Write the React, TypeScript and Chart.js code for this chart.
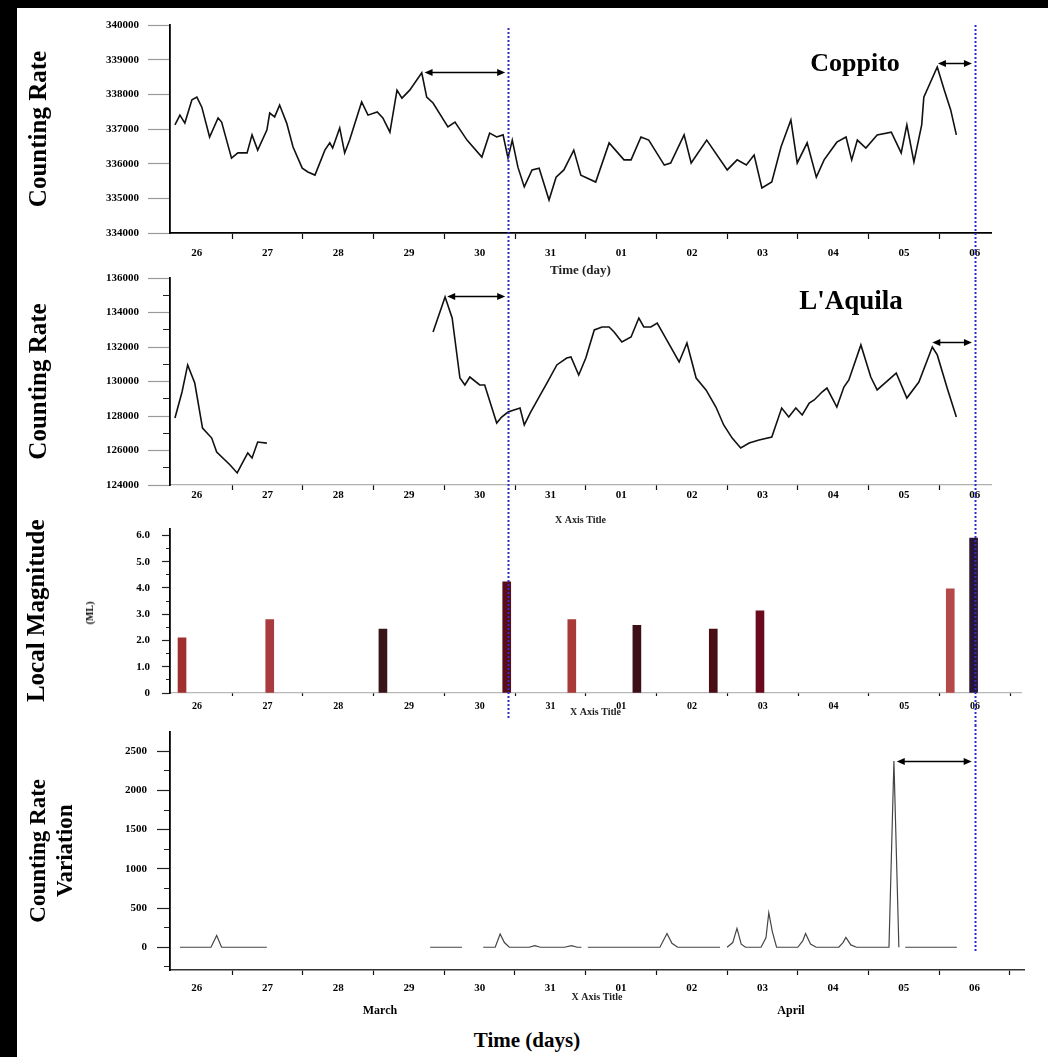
import React, { useEffect, useRef } from 'react';
import { Chart, registerables } from 'chart.js';

Chart.register(...registerables);

const SERIF = "'Liberation Serif', 'DejaVu Serif', 'Times New Roman', serif";

// ---- shared time axis (days; 32 = 1 April) ----
const DAY_VALUES = [26, 27, 28, 29, 30, 31, 32, 33, 34, 35, 36, 37];
const DAY_LABELS = ['26', '27', '28', '29', '30', '31', '01', '02', '03', '04', '05', '06'];
const HALF_DAY_MARKS = [26.5, 27.5, 28.5, 29.5, 30.5, 31.5, 32.5, 33.5, 34.5, 35.5, 36.5, 37.5];
const EVENT_DAYS = [30.4, 37.0];

// ---- Coppito counting rate [day, counts] ----
const COPPITO_POINTS: [number, number][] = [
  [25.69, 337120], [25.76, 337400], [25.83, 337170], [25.93, 337840], [26.0, 337920],
  [26.07, 337630], [26.18, 336770], [26.3, 337320], [26.35, 337200], [26.49, 336160],
  [26.58, 336310], [26.71, 336310], [26.78, 336830], [26.86, 336390], [26.99, 336970],
  [27.03, 337460], [27.1, 337350], [27.17, 337690], [27.27, 337170], [27.36, 336480],
  [27.49, 335870], [27.57, 335760], [27.67, 335670], [27.81, 336390], [27.88, 336600],
  [27.92, 336450], [28.02, 337030], [28.09, 336310], [28.16, 336680], [28.33, 337780],
  [28.42, 337400], [28.55, 337490], [28.63, 337320], [28.73, 336910], [28.83, 338120],
  [28.9, 337890], [29.01, 338120], [29.18, 338620], [29.25, 337920], [29.34, 337750],
  [29.55, 337060], [29.65, 337200], [29.82, 336680], [30.03, 336190], [30.14, 336880],
  [30.24, 336770], [30.33, 336830], [30.4, 336160], [30.46, 336680], [30.54, 335900],
  [30.63, 335330], [30.74, 335820], [30.84, 335870], [30.98, 334950], [31.08, 335610],
  [31.19, 335820], [31.33, 336390], [31.43, 335670], [31.64, 335470], [31.83, 336600],
  [32.04, 336110], [32.14, 336110], [32.28, 336770], [32.39, 336680], [32.61, 335960],
  [32.7, 336020], [32.89, 336830], [32.99, 336020], [33.21, 336680], [33.5, 335820],
  [33.64, 336110], [33.77, 335960], [33.88, 336250], [33.99, 335300], [34.13, 335470],
  [34.26, 336480], [34.4, 337260], [34.49, 336020], [34.63, 336600], [34.76, 335610],
  [34.87, 336110], [35.05, 336620], [35.18, 336770], [35.26, 336110], [35.34, 336680],
  [35.46, 336450], [35.62, 336830], [35.82, 336910], [35.96, 336310], [36.04, 337120],
  [36.14, 336050], [36.25, 337120], [36.28, 337920], [36.47, 338790], [36.57, 338120],
  [36.66, 337550], [36.74, 336830],
];
const COPPITO_Y_TICKS = [334000, 335000, 336000, 337000, 338000, 339000, 340000];
const COPPITO_ARROWS = [
  { from: 29.22, to: 30.36, level: 338640 },
  { from: 36.48, to: 36.96, level: 338900 },
];

// ---- L'Aquila counting rate [day, counts] (null = data gap) ----
const AQUILA_POINTS: [number, number | null][] = [
  [25.69, 127880], [25.79, 129390], [25.87, 130960], [25.97, 129910], [26.08, 127300],
  [26.21, 126720], [26.28, 125910], [26.47, 125160], [26.57, 124700], [26.65, 125330],
  [26.72, 125860], [26.78, 125570], [26.86, 126490], [26.99, 126430], [28.0, null],
  [29.34, 132870], [29.51, 134900], [29.61, 133680], [29.72, 130200], [29.79, 129800],
  [29.86, 130260], [30.0, 129800], [30.07, 129800], [30.24, 127590], [30.31, 127940],
  [30.4, 128230], [30.57, 128460], [30.63, 127480], [30.72, 128230], [30.87, 129330],
  [30.95, 129910], [31.09, 130960], [31.23, 131360], [31.29, 131420], [31.4, 130380],
  [31.5, 131360], [31.62, 132990], [31.73, 133160], [31.83, 133160], [31.9, 132870],
  [32.01, 132290], [32.14, 132580], [32.25, 133680], [32.32, 133160], [32.42, 133160],
  [32.51, 133390], [32.63, 132520], [32.82, 131130], [32.93, 132230], [33.06, 130200],
  [33.2, 129510], [33.34, 128520], [33.45, 127480], [33.57, 126720], [33.69, 126150],
  [33.81, 126430], [33.95, 126610], [34.13, 126780], [34.27, 128460], [34.37, 127940],
  [34.47, 128460], [34.56, 128060], [34.66, 128750], [34.73, 128930], [34.84, 129390],
  [34.91, 129620], [35.05, 128520], [35.15, 129680], [35.22, 130090], [35.39, 132120],
  [35.53, 130260], [35.62, 129510], [35.89, 130490], [36.04, 129040], [36.21, 129970],
  [36.4, 132000], [36.47, 131540], [36.61, 129620], [36.74, 127940],
];
const AQUILA_Y_TICKS = [124000, 126000, 128000, 130000, 132000, 134000, 136000];
const AQUILA_Y_MINOR = [125000, 127000, 129000, 131000, 133000, 135000];
const AQUILA_ARROWS = [
  { from: 29.54, to: 30.36, level: 134960 },
  { from: 36.4, to: 36.96, level: 132290 },
];

// ---- Local magnitude of events ----
const MAG_DAYS = [25.79, 27.03, 28.63, 30.38, 31.3, 32.22, 33.3, 33.96, 36.65, 36.98];
const MAG_ML = [2.1, 2.8, 2.43, 4.23, 2.8, 2.58, 2.43, 3.13, 3.97, 5.9];
const MAG_COLORS = ['#a0302f', '#a83a40', '#3a1418', '#5a0c18', '#a83a38', '#3c1016', '#4a0e16', '#6a0a1c', '#b54848', '#2a1434'];
const MAG_Y_TICKS = [0, 1, 2, 3, 4, 5, 6];
const MAG_Y_MINOR = [0.5, 1.5, 2.5, 3.5, 4.5, 5.5];

// ---- Counting rate variation (%) ----
const VAR_POINTS: [number, number | null][] = [
  [25.76, 0], [26.2, 0], [26.28, 150], [26.35, 0], [26.99, 0], [27.0, null],
  [29.3, 0], [29.75, 0], [29.8, null],
  [30.05, 0], [30.22, 0], [30.29, 170], [30.35, 60], [30.42, 0], [30.7, 0], [30.78, 20],
  [30.86, 0], [31.2, 0], [31.3, 20], [31.38, 0], [31.44, 0], [31.47, null],
  [31.53, 0], [32.55, 0], [32.65, 175], [32.72, 50], [32.8, 0], [33.4, 0], [33.43, null],
  [33.5, 0], [33.58, 60], [33.64, 240], [33.7, 40], [33.76, 0], [33.98, 0], [34.05, 120],
  [34.09, 440], [34.14, 200], [34.2, 0], [34.5, 0], [34.57, 80], [34.61, 175], [34.68, 40],
  [34.76, 0], [35.08, 0], [35.14, 60], [35.18, 125], [35.25, 30], [35.33, 0], [35.79, 0],
  [35.86, 2375], [35.93, 0], [35.97, null], [36.02, 0], [36.75, 0],
];
const VAR_Y_TICKS = [0, 500, 1000, 1500, 2000, 2500];
const VAR_Y_MINOR = [-250, 250, 750, 1250, 1750, 2250];
const VAR_ARROWS = [{ from: 35.9, to: 36.96, level: 2375 }];

// ---------------------------------------------------------------
type VLine = { x: number; y0: number; y1: number };
type Arrow = { from: number; to: number; level: number };

function overlay(vlines: VLine[], arrows: Arrow[]) {
  return {
    id: 'overlay',
    afterDraw(chart: any) {
      const { ctx } = chart;
      const xs = chart.scales.x;
      const ys = chart.scales.y;
      ctx.save();
      arrows.forEach((a) => {
        const x0 = xs.getPixelForValue(a.from);
        const x1 = xs.getPixelForValue(a.to);
        const py = Math.round(ys.getPixelForValue(a.level)) + 0.5;
        ctx.strokeStyle = '#000';
        ctx.fillStyle = '#000';
        ctx.lineWidth = 1.5;
        ctx.beginPath();
        ctx.moveTo(x0 + 4, py);
        ctx.lineTo(x1 - 4, py);
        ctx.stroke();
        ctx.beginPath();
        ctx.moveTo(x0, py);
        ctx.lineTo(x0 + 8, py - 3.5);
        ctx.lineTo(x0 + 8, py + 3.5);
        ctx.closePath();
        ctx.fill();
        ctx.beginPath();
        ctx.moveTo(x1, py);
        ctx.lineTo(x1 - 8, py - 3.5);
        ctx.lineTo(x1 - 8, py + 3.5);
        ctx.closePath();
        ctx.fill();
      });
      vlines.forEach((l) => {
        const px = Math.round(xs.getPixelForValue(l.x)) + 0.5;
        ctx.strokeStyle = '#2f2fc8';
        ctx.lineWidth = 2;
        ctx.setLineDash([2, 2]);
        ctx.beginPath();
        ctx.moveTo(px, l.y0);
        ctx.lineTo(px, l.y1);
        ctx.stroke();
      });
      ctx.restore();
    },
  };
}

type XOpts = {
  min: number; max: number; height: number; font: number; tickLen: number; pad: number;
  border: string; borderW: number; title?: { text: string; size: number; pad: number };
};

function xAxis(o: XOpts): any {
  return {
    type: 'linear',
    position: 'bottom',
    min: o.min,
    max: o.max,
    offset: false,
    weight: 1,
    afterBuildTicks: (s: any) => {
      s.ticks = [...DAY_VALUES, ...HALF_DAY_MARKS]
        .filter((v) => v >= o.min && v <= o.max)
        .sort((a, b) => a - b)
        .map((v) => ({ value: v }));
    },
    afterFit: (s: any) => { s.height = o.height; },
    ticks: {
      autoSkip: false, maxRotation: 0, minRotation: 0, padding: o.pad, color: '#000',
      font: { family: SERIF, size: o.font, weight: 'bold' },
      callback: (v: number) => {
        const i = DAY_VALUES.indexOf(v);
        return i >= 0 ? DAY_LABELS[i] : '';
      },
    },
    grid: {
      offset: false, drawOnChartArea: false, drawTicks: true, tickLength: o.tickLen, tickWidth: 1.2,
      tickColor: (c: any) => (c.tick && DAY_VALUES.includes(c.tick.value) ? 'rgba(0,0,0,0)' : '#111'),
    },
    border: { display: true, color: o.border, width: o.borderW },
    title: o.title
      ? { display: true, text: o.title.text, color: '#222', font: { family: SERIF, size: o.title.size, weight: 'bold', lineHeight: 1.2 }, padding: { top: 0, bottom: o.title.pad } }
      : { display: false },
  };
}

type YOpts = {
  min: number; max: number; ticks: number[]; fmt: (v: number) => string; width: number;
  tickLen: number; tickColor: string; pad: number; font: number; title: string | string[];
  titleSize: number; titlePad: number;
};

function yAxis(o: YOpts): any {
  return {
    type: 'linear',
    position: 'left',
    min: o.min,
    max: o.max,
    weight: 1,
    afterBuildTicks: (s: any) => { s.ticks = o.ticks.map((v) => ({ value: v })); },
    afterFit: (s: any) => { s.width = o.width; },
    ticks: {
      autoSkip: false, padding: o.pad, color: '#000',
      font: { family: SERIF, size: o.font, weight: 'bold' },
      callback: (v: number) => o.fmt(v),
    },
    grid: { drawOnChartArea: false, drawTicks: true, tickLength: o.tickLen, tickColor: o.tickColor, tickWidth: 1.2 },
    border: { display: true, color: '#000', width: 1.8 },
    title: {
      display: true, text: o.title, color: '#000',
      font: { family: SERIF, size: o.titleSize, weight: 'bold', lineHeight: 1.2 },
      padding: { top: o.titlePad, bottom: 0 },
    },
  };
}

function minorY(min: number, max: number, ticks: number[], len: number): any {
  return {
    type: 'linear',
    position: 'left',
    min,
    max,
    weight: 0,
    afterBuildTicks: (s: any) => { s.ticks = ticks.map((v) => ({ value: v })); },
    afterFit: (s: any) => { s.width = 0; },
    ticks: { autoSkip: false, padding: 0, callback: () => '' },
    grid: { drawOnChartArea: false, drawTicks: true, tickLength: len, tickColor: '#222', tickWidth: 1 },
    border: { display: false },
    title: { display: false },
  };
}

const X_MIN = 25.62;

function baseOptions(padTop: number, padRight: number, scales: any): any {
  return {
    responsive: false,
    animation: false,
    events: [],
    layout: { padding: { left: 0, top: padTop, right: padRight, bottom: 0 } },
    plugins: { legend: { display: false }, tooltip: { enabled: false } },
    scales,
  };
}

const Txt = (p: { x: number; y: number; size: number; rotate?: boolean; children: React.ReactNode }) => (
  <div
    style={{
      position: 'absolute', left: p.x, top: p.y,
      transform: `translate(-50%, -50%)${p.rotate ? ' rotate(-90deg)' : ''}`,
      font: `bold ${p.size}px ${SERIF}`, whiteSpace: 'nowrap', color: '#000', lineHeight: 1,
    }}
  >
    {p.children}
  </div>
);

export default function App() {
  const r1 = useRef<HTMLCanvasElement>(null);
  const r2 = useRef<HTMLCanvasElement>(null);
  const r3 = useRef<HTMLCanvasElement>(null);
  const r4 = useRef<HTMLCanvasElement>(null);

  useEffect(() => {
    Chart.defaults.font.family = SERIF;
    const charts: Chart[] = [];

    // Panel 1: Coppito
    charts.push(new Chart(r1.current as HTMLCanvasElement, {
      type: 'line',
      data: {
        datasets: [{
          data: COPPITO_POINTS.map(([x, y]) => ({ x, y })),
          borderColor: '#111', borderWidth: 1.6, pointRadius: 0, tension: 0,
          xAxisID: 'x', yAxisID: 'y',
        }],
      },
      options: baseOptions(17, 57, {
        x: xAxis({ min: X_MIN, max: 37.23, height: 47, font: 11, tickLen: 6, pad: 8, border: '#000', borderW: 1.8, title: { text: 'Time (day)', size: 13, pad: 2 } }),
        y: yAxis({
          min: 334000, max: 340000, ticks: COPPITO_Y_TICKS, fmt: (v) => String(v), width: 153,
          tickLen: 22, tickColor: '#9a9a9a', pad: 9, font: 11, title: 'Counting Rate', titleSize: 25, titlePad: 8,
        }),
      }),
      plugins: [overlay([{ x: EVENT_DAYS[0], y0: 20, y1: 272 }, { x: EVENT_DAYS[1], y0: 17, y1: 272 }], COPPITO_ARROWS)],
    } as any));

    // Panel 2: L'Aquila
    charts.push(new Chart(r2.current as HTMLCanvasElement, {
      type: 'line',
      data: {
        datasets: [{
          data: AQUILA_POINTS.map(([x, y]) => ({ x, y })),
          borderColor: '#111', borderWidth: 1.6, pointRadius: 0, tension: 0, spanGaps: false,
          xAxisID: 'x', yAxisID: 'y',
        }],
      },
      options: baseOptions(16, 57, {
        x: xAxis({ min: X_MIN, max: 37.23, height: 47, font: 11, tickLen: 5, pad: -1, border: '#b0b0b0', borderW: 1.2, title: { text: 'X Axis Title', size: 10, pad: 6 } }),
        y: yAxis({
          min: 124000, max: 136000, ticks: AQUILA_Y_TICKS, fmt: (v) => String(v), width: 153,
          tickLen: 22, tickColor: '#9a9a9a', pad: 9, font: 11, title: 'Counting Rate', titleSize: 25, titlePad: 8,
        }),
        y2: minorY(124000, 136000, AQUILA_Y_MINOR, 7),
      }),
      plugins: [overlay([{ x: EVENT_DAYS[0], y0: 18, y1: 270 }, { x: EVENT_DAYS[1], y0: 18, y1: 270 }], AQUILA_ARROWS)],
    } as any));

    // Panel 3: Local magnitude
    charts.push(new Chart(r3.current as HTMLCanvasElement, {
      type: 'bar',
      data: {
        datasets: [{
          data: MAG_DAYS.map((x, i) => ({ x, y: MAG_ML[i] })),
          backgroundColor: MAG_COLORS, borderWidth: 0, barThickness: 8,
          xAxisID: 'x', yAxisID: 'y',
        }],
      },
      options: baseOptions(13, 27, {
        x: xAxis({ min: X_MIN, max: 37.65, height: 32, font: 10, tickLen: 3, pad: 4, border: '#b8b8b8', borderW: 1.2, title: { text: 'X Axis Title', size: 10, pad: 7 } }),
        y: yAxis({
          min: 0, max: 6.26, ticks: MAG_Y_TICKS, fmt: (v) => (v === 0 ? '0' : v.toFixed(1)), width: 153,
          tickLen: 8, tickColor: '#222', pad: 12, font: 11, title: 'Local Magnitude', titleSize: 25, titlePad: 6,
        }),
        y2: minorY(0, 6.26, MAG_Y_MINOR, 4),
      }),
      plugins: [overlay([{ x: EVENT_DAYS[0], y0: 22, y1: 208 }, { x: EVENT_DAYS[1], y0: 22, y1: 215 }], [])],
    } as any));

    // Panel 4: Counting rate variation
    charts.push(new Chart(r4.current as HTMLCanvasElement, {
      type: 'line',
      data: {
        datasets: [{
          data: VAR_POINTS.map(([x, y]) => ({ x, y })),
          borderColor: '#444', borderWidth: 1.2, pointRadius: 0, tension: 0, spanGaps: false,
          xAxisID: 'x', yAxisID: 'y',
        }],
      },
      options: baseOptions(12, 24, {
        x: xAxis({ min: X_MIN, max: 37.7, height: 45, font: 11, tickLen: 5, pad: 7, border: '#333', borderW: 1.5, title: { text: 'X Axis Title', size: 10, pad: 12 } }),
        y: yAxis({
          min: -290, max: 2750, ticks: VAR_Y_TICKS, fmt: (v) => String(v), width: 153,
          tickLen: 13, tickColor: '#222', pad: 10, font: 11, title: ['Counting Rate', 'Variation'], titleSize: 23, titlePad: 8,
        }),
        y2: minorY(-290, 2750, VAR_Y_MINOR, 6),
      }),
      plugins: [overlay([{ x: EVENT_DAYS[1], y0: 10, y1: 238 }], VAR_ARROWS)],
    } as any));

    return () => charts.forEach((c) => c.destroy());
  }, []);

  const cv = (top: number): React.CSSProperties => ({ position: 'absolute', left: 17, top, display: 'block' });

  return (
    <div style={{ position: 'absolute', left: 0, top: 0, width: 1048, height: 1057, background: '#000', overflow: 'hidden' }}>
      <div style={{ position: 'absolute', left: 17, top: 8, width: 1031, height: 1049, background: '#fff' }} />
      <canvas ref={r1} width={1031} height={272} style={cv(8)} />
      <canvas ref={r2} width={1031} height={270} style={cv(262)} />
      <canvas ref={r3} width={1031} height={215} style={cv(510)} />
      <canvas ref={r4} width={1031} height={300} style={cv(715)} />
      <Txt x={855} y={63} size={26}>Coppito</Txt>
      <Txt x={851} y={300} size={27}>L'Aquila</Txt>
      <Txt x={90} y={613} size={10} rotate>(ML)</Txt>
      <Txt x={380} y={1010} size={12}>March</Txt>
      <Txt x={791} y={1010} size={12}>April</Txt>
      <Txt x={527} y={1040} size={21}>Time (days)</Txt>
    </div>
  );
}
